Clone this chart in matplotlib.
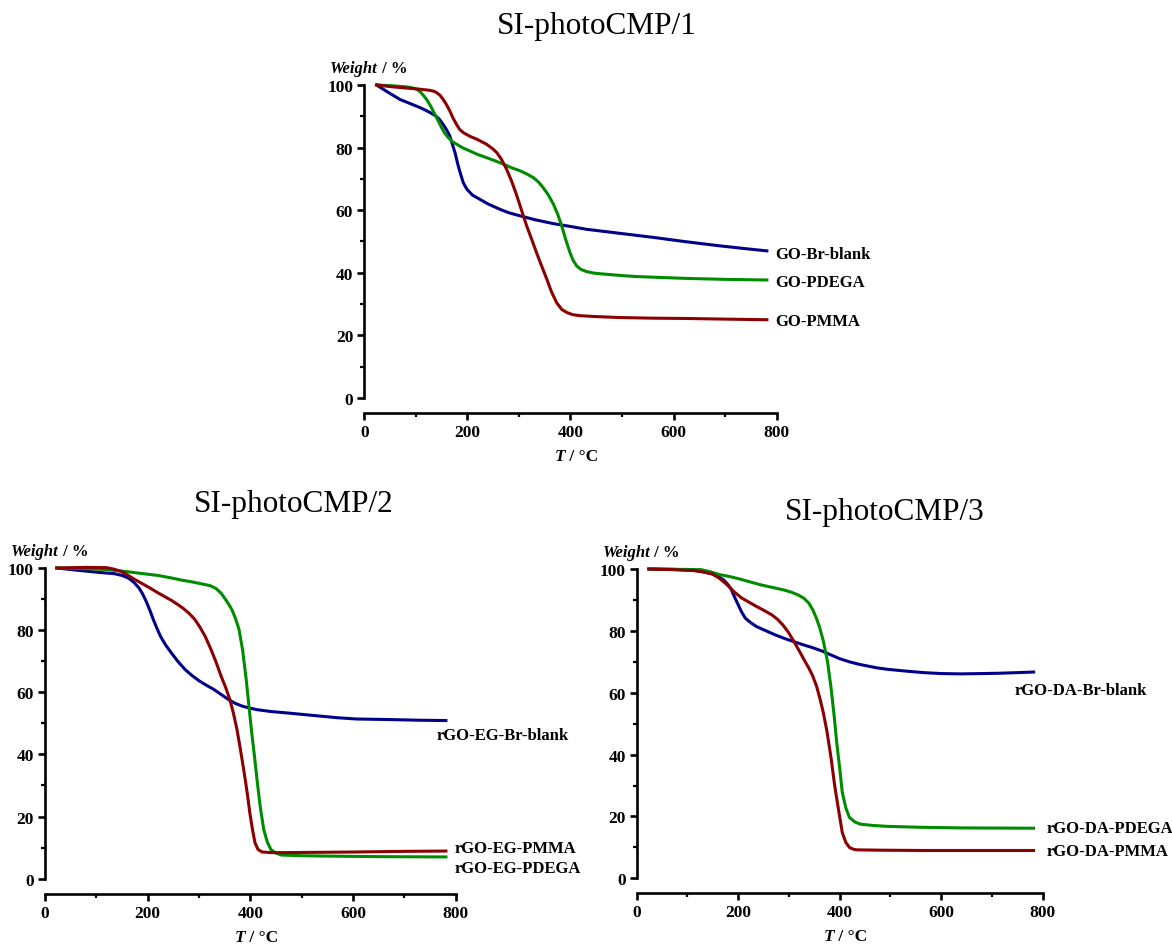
"""
TGA curves for the SI-photoCMP grafted graphene samples
"""

import matplotlib
matplotlib.use('Agg')
import matplotlib.pyplot as plt
from matplotlib.ticker import MultipleLocator

plt.rcParams['font.family'] = ['Liberation Serif', 'DejaVu Serif']
plt.rcParams['font.weight'] = 'bold'

BLUE = '#00008b'
GREEN = '#008c00'
RED = '#8b0000'

# SI-photoCMP/1  (GO)
go_blank_T = [24, 40, 55, 69, 90, 108, 122, 134, 140, 146, 153, 160, 166, 171, 176, 181, 186, 192, 199, 210,
              224, 240, 263, 280, 302, 330, 367, 400, 431, 496, 561, 625, 690, 740, 781]
go_blank_W = [100, 98.3, 96.8, 95.4, 94.0, 92.8, 91.7, 90.6, 89.9, 89.0, 87.4, 85.6, 83.7, 81.0, 78.4, 75.0,
              72.0, 68.8, 66.7, 64.8, 63.5, 62.0, 60.3, 59.2, 58.2, 57.0, 55.7, 54.8, 53.9, 52.6, 51.3, 49.9,
              48.6, 47.7, 47.0]

go_pdega_T = [24, 50, 82, 95, 102, 110, 121, 129, 137, 144, 150, 156, 163, 170, 179, 190, 205, 220, 237, 255,
              270, 285, 302, 315, 328, 338, 347, 357, 367, 375, 383, 391, 399, 405, 412, 420, 431, 445, 464,
              500, 528, 575, 625, 700, 781]
go_pdega_W = [100, 99.8, 99.4, 99.0, 98.6, 97.6, 95.4, 93.2, 90.6, 88.4, 86.4, 84.6, 83.2, 82.0, 81.1, 80.0,
              78.9, 77.8, 76.8, 75.7, 74.7, 73.6, 72.6, 71.6, 70.4, 69.0, 67.2, 64.9, 61.9, 58.8, 55.0, 50.5,
              46.5, 44.0, 42.2, 41.1, 40.4, 39.9, 39.6, 39.1, 38.8, 38.5, 38.2, 37.9, 37.7]

go_pmma_T = [24, 50, 76, 100, 127, 135, 140, 147, 153, 160, 166, 172, 179, 185, 192, 205, 218, 237, 250, 257,
             266, 276, 286, 296, 305, 315, 325, 334, 344, 354, 363, 373, 383, 393, 405, 418, 450, 496, 560,
             625, 700, 781]
go_pmma_W = [100, 99.5, 99.1, 98.8, 98.3, 98.0, 97.6, 96.7, 95.4, 93.6, 91.7, 89.5, 87.4, 85.8, 84.8, 83.6,
             82.7, 81.1, 79.5, 78.4, 76.3, 73.1, 69.2, 64.6, 60.0, 55.0, 50.6, 46.5, 42.2, 38.0, 34.0, 30.5,
             28.3, 27.3, 26.6, 26.3, 26.0, 25.7, 25.5, 25.4, 25.2, 25.0]

# SI-photoCMP/2  (rGO-EG)
eg_blank_T = [23, 50, 86, 110, 134, 150, 162, 173, 183, 190, 197, 204, 211, 218, 225, 235, 246, 259, 273, 287,
              301, 315, 329, 343, 357, 371, 385, 399, 413, 440, 468, 500, 538, 570, 607, 677, 730, 781]
eg_blank_W = [100, 99.5, 98.9, 98.5, 98.2, 97.6, 96.8, 95.4, 93.6, 91.7, 89.3, 86.5, 83.4, 80.6, 78.0, 75.2,
              72.7, 69.9, 67.3, 65.3, 63.6, 62.2, 60.9, 59.3, 57.7, 56.4, 55.5, 54.9, 54.4, 53.8, 53.4, 52.9,
              52.3, 51.8, 51.4, 51.2, 51.0, 50.9]

eg_pmma_T = [23, 80, 120, 135, 148, 162, 176, 190, 204, 218, 232, 246, 259, 270, 280, 291, 301, 312, 322, 333,
             343, 352, 360, 367, 374, 381, 388, 394, 399, 404, 409, 415, 423, 440, 468, 540, 607, 700, 781]
eg_pmma_W = [100, 100.2, 100.1, 99.6, 98.9, 97.6, 96.2, 94.9, 93.6, 92.2, 90.9, 89.6, 88.2, 86.9, 85.5, 83.6,
             81.2, 78.0, 74.3, 69.8, 65.2, 61.5, 57.7, 53.3, 48.0, 41.3, 34.1, 27.5, 21.2, 16.0, 11.6, 9.4,
             8.6, 8.4, 8.4, 8.5, 8.6, 8.8, 8.9]

eg_pdega_T = [23, 70, 120, 155, 190, 220, 246, 266, 287, 305, 322, 333, 343, 352, 358, 364, 371, 378, 385, 392,
              397, 402, 408, 413, 419, 426, 433, 440, 450, 461, 500, 538, 650, 781]
eg_pdega_W = [100, 99.8, 99.5, 98.9, 98.2, 97.6, 96.8, 96.1, 95.5, 94.9, 94.3, 93.4, 91.9, 89.8, 88.3, 86.6,
              83.8, 80.2, 73.5, 64.1, 56.0, 48.0, 39.5, 31.9, 23.5, 15.9, 11.8, 9.4, 8.2, 7.6, 7.4, 7.3, 7.1,
              7.0]

# SI-photoCMP/3  (rGO-DA)
da_blank_T = [24, 70, 112, 130, 149, 160, 171, 178, 185, 192, 200, 207, 214, 225, 236, 255, 273, 292, 310, 328,
              346, 365, 383, 400, 419, 438, 456, 475, 493, 530, 566, 600, 639, 680, 712, 750, 782]
da_blank_W = [100, 99.9, 99.6, 99.1, 98.4, 97.6, 96.5, 95.3, 93.8, 91.2, 88.4, 86.0, 84.1, 82.6, 81.4, 80.0,
              78.7, 77.5, 76.5, 75.5, 74.6, 73.5, 72.2, 71.0, 70.0, 69.2, 68.6, 68.0, 67.6, 67.0, 66.5, 66.2,
              66.1, 66.2, 66.3, 66.5, 66.7]

da_pdega_T = [24, 80, 127, 145, 163, 182, 200, 222, 244, 266, 288, 303, 317, 329, 339, 347, 354, 361, 368, 376,
              383, 389, 394, 400, 405, 412, 419, 430, 441, 465, 493, 560, 639, 782]
da_pdega_W = [100, 99.9, 99.8, 99.1, 98.2, 97.6, 96.9, 95.9, 94.9, 94.1, 93.3, 92.6, 91.7, 90.6, 89.0, 86.8,
              84.1, 80.8, 76.5, 70.0, 61.4, 52.5, 44.0, 35.5, 27.8, 22.8, 19.7, 18.2, 17.5, 17.1, 16.8, 16.5,
              16.3, 16.2]

da_pmma_T = [24, 70, 112, 130, 149, 163, 178, 192, 207, 222, 236, 251, 266, 277, 288, 299, 310, 321, 332, 339,
             346, 354, 361, 368, 375, 383, 390, 398, 405, 412, 419, 427, 434, 480, 566, 782]
da_pmma_W = [100, 99.8, 99.5, 99.1, 98.4, 97.0, 94.9, 92.6, 90.6, 89.2, 87.9, 86.6, 85.2, 83.8, 81.9, 79.5,
             76.5, 73.3, 70.0, 68.0, 65.7, 62.3, 58.1, 53.3, 47.3, 38.8, 30.0, 21.8, 14.8, 11.6, 10.0, 9.4,
             9.2, 9.1, 9.0, 9.0]

panels = [
    dict(title='SI-photoCMP/1', rect=[0.3108, 0.5778, 0.3519, 0.3312], title_xy=(0.509, 0.972),
         series=[(go_blank_T, go_blank_W, BLUE), (go_pdega_T, go_pdega_W, GREEN), (go_pmma_T, go_pmma_W, RED)],
         labels=[('GO-Br-blank', 797, 46.0), ('GO-PDEGA', 797, 37.2), ('GO-PMMA', 797, 24.5)]),
    dict(title='SI-photoCMP/2', rect=[0.0384, 0.0691, 0.3504, 0.3288], title_xy=(0.251, 0.466),
         series=[(eg_blank_T, eg_blank_W, BLUE), (eg_pdega_T, eg_pdega_W, GREEN), (eg_pmma_T, eg_pmma_W, RED)],
         labels=[('rGO-EG-Br-blank', 762, 46.4), ('rGO-EG-PMMA', 797, 9.8), ('rGO-EG-PDEGA', 797, 3.6)]),
    dict(title='SI-photoCMP/3', rect=[0.5433, 0.0695, 0.3464, 0.3273], title_xy=(0.755, 0.458),
         series=[(da_blank_T, da_blank_W, BLUE), (da_pdega_T, da_pdega_W, GREEN), (da_pmma_T, da_pmma_W, RED)],
         labels=[('rGO-DA-Br-blank', 745, 60.8), ('rGO-DA-PDEGA', 807, 16.2), ('rGO-DA-PMMA', 807, 8.9)]),
]

fig = plt.figure(figsize=(11.72, 9.45), dpi=100)

for p in panels:
    ax = fig.add_axes(p['rect'])
    for T, W, c in p['series']:
        ax.plot(T, W, color=c, lw=2.2, clip_on=False, zorder=3, solid_joinstyle='round')

    ax.set_xlim(0, 800)
    ax.set_ylim(0, 100)
    for s in ('top', 'right'):
        ax.spines[s].set_visible(False)
    ax.spines['left'].set_linewidth(1.9)
    ax.spines['bottom'].set_linewidth(1.9)
    ax.spines['bottom'].set_position(('outward', 10.8))
    ax.xaxis.set_major_locator(MultipleLocator(200))
    ax.xaxis.set_minor_locator(MultipleLocator(100))
    ax.yaxis.set_major_locator(MultipleLocator(20))
    ax.yaxis.set_minor_locator(MultipleLocator(10))
    ax.tick_params(which='major', direction='out', length=5, width=1.9, labelsize=12.5, pad=3)
    ax.tick_params(which='minor', direction='out', length=3, width=1.6)
    for lab in ax.get_xticklabels() + ax.get_yticklabels():
        lab.set_fontweight('bold')

    # y axis caption: italic quantity, upright unit
    t = ax.annotate('Weight', xy=(0, 100), xycoords='data', xytext=(-34, 13),
                    textcoords='offset pixels', fontsize=12, fontstyle='italic',
                    fontweight='bold', ha='left', va='baseline', annotation_clip=False)
    ax.annotate(' / %', xy=(1, 0), xycoords=t, fontsize=12, fontweight='bold',
                ha='left', va='bottom')

    # x axis caption
    tx = ax.annotate('T', xy=(400, 0), xycoords='data', xytext=(-16, -62),
                     textcoords='offset pixels', fontsize=12.5, fontstyle='italic',
                     fontweight='bold', ha='left', va='baseline', annotation_clip=False)
    ax.annotate(' / °C', xy=(1, 0), xycoords=tx, fontsize=12.5, fontweight='bold',
                ha='left', va='bottom')

    for name, x, y in p['labels']:
        ax.text(x, y, name, fontsize=12, fontweight='bold', ha='left', va='center', clip_on=False)

    fig.text(p['title_xy'][0], p['title_xy'][1], p['title'], fontsize=22.5, fontweight='normal',
             ha='center', va='center')

fig.savefig('out.png', dpi=100)
